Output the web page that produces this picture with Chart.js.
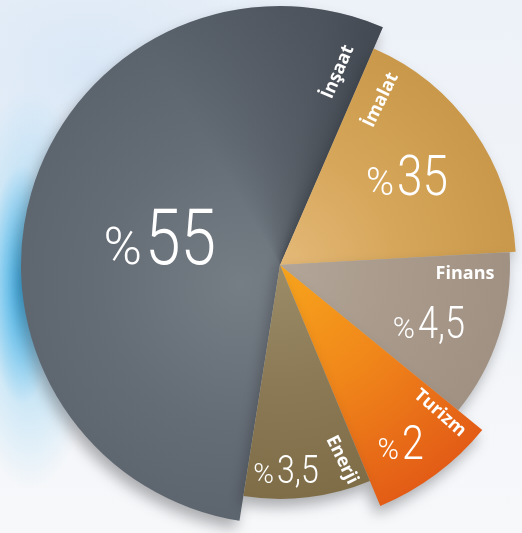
<!DOCTYPE html>
<html>
<head>
<meta charset="utf-8">
<script src="https://cdn.jsdelivr.net/npm/chart.js@4.4.1/dist/chart.umd.min.js"></script>
<style>
  html, body { margin: 0; padding: 0; }
  body {
    width: 522px; height: 533px; overflow: hidden;
    background:
      radial-gradient(ellipse 34px 120px at 22px 285px, rgba(45,170,230,0.85), rgba(45,170,230,0) 100%),
      radial-gradient(ellipse 70px 200px at 30px 290px, rgba(120,200,240,0.7), rgba(120,200,240,0) 100%),
      radial-gradient(ellipse 260px 180px at 90px 70px, rgba(215,230,246,0.9), rgba(215,230,246,0) 100%),
      linear-gradient(180deg, #edf2f8 0%, #f2f5f9 60%, #f7f8fa 100%);
  }
  #wrap { position: relative; width: 522px; height: 533px; }
</style>
</head>
<body>
<div id="wrap"><canvas id="pie"></canvas></div>
<script>
// sectors, clockwise from the lower left edge of İnşaat
const sectors = ['İnşaat', 'İmalat', 'Finans', 'Turizm', 'Enerji'];
const shares  = ['55', '35', '4,5', '2', '3,5'];      // printed figures (%)
const sweep   = [194.4, 63.4, 42.4, 28.2, 31.6];      // opening of each slice, degrees
const reach   = [259, 236, 230, 261, 234];            // slice radius, r scale units
const R_MAX = 242;

// gradient stops per slice: [inner, middle, outer]
const shades = [
  ['#757d85', '#646c75', '#59616b'],
  ['#e4b978', '#d6a65a', '#c9984a'],
  ['#b3a698', '#a99a8b', '#a09182'],
  ['#f8a51c', '#f0861a', '#e35c16'],
  ['#9c8c68', '#8b7a55', '#7e6d47']
];

function sliceFill(context) {
  const chart = context.chart;
  const r = chart.scales.r;
  const i = context.dataIndex;
  const s = shades[i];
  if (!r || !chart.chartArea || r.xCenter === undefined) return s[1];
  const ctx = chart.ctx;
  let g;
  if (i === 0) {
    g = ctx.createRadialGradient(r.xCenter - 40, r.yCenter + 20, 0, r.xCenter - 40, r.yCenter + 20, 280);
  } else {
    g = ctx.createRadialGradient(r.xCenter, r.yCenter, 0, r.xCenter, r.yCenter, reach[i]);
  }
  g.addColorStop(0, s[0]);
  g.addColorStop(0.5, s[1]);
  g.addColorStop(1, s[2]);
  return g;
}

// soft drop shadow under every slice
const shadowPlugin = {
  id: 'sliceShadow',
  beforeDatasetDraw(chart) {
    const ctx = chart.ctx;
    ctx.save();
    ctx.shadowColor = 'rgba(40,40,45,0.36)';
    ctx.shadowBlur = 14;
    ctx.shadowOffsetX = -4;
    ctx.shadowOffsetY = 8;
  },
  afterDatasetDraw(chart) {
    chart.ctx.restore();
  }
};

// darker edge on İnşaat next to İmalat
const edgePlugin = {
  id: 'edgeShade',
  afterDatasetDraw(chart) {
    const arc = chart.getDatasetMeta(0).data[0];
    if (!arc) return;
    const ctx = chart.ctx;
    const { x, y, startAngle, endAngle, outerRadius } = arc.getProps(['x', 'y', 'startAngle', 'endAngle', 'outerRadius'], true);
    ctx.save();
    ctx.beginPath();
    ctx.moveTo(x, y);
    ctx.arc(x, y, outerRadius, startAngle, endAngle);
    ctx.closePath();
    ctx.clip();
    const g = ctx.createConicGradient(startAngle, x, y);
    const span = (endAngle - startAngle) / (2 * Math.PI);
    g.addColorStop(0, 'rgba(30,34,40,0)');
    g.addColorStop(span * 0.72, 'rgba(30,34,40,0)');
    g.addColorStop(span * 0.93, 'rgba(30,34,40,0.22)');
    g.addColorStop(span, 'rgba(30,34,40,0.38)');
    g.addColorStop(span + 0.001, 'rgba(30,34,40,0)');
    ctx.fillStyle = g;
    ctx.fillRect(0, 0, chart.width, chart.height);
    ctx.restore();
  }
};

// names and figures
const nameSpots = [
  { dx: 58,  dy: -193, rot: -66.6 },
  { dx: 101, dy: -165, rot: -64 },
  { dx: 185, dy: 9,    rot: 0 },
  { dx: 160, dy: 148,  rot: 41 },
  { dx: 62,  dy: 195,  rot: 64 }
];
const figureSpots = [
  { dx: -135, dy: -1,  size: 78, pct: 52 },
  { dx: 117,  dy: -70, size: 56, pct: 38 },
  { dx: 138,  dy: 73,  size: 44, pct: 30 },
  { dx: 122,  dy: 194, size: 48, pct: 29 },
  { dx: -3,   dy: 218, size: 39, pct: 28 }
];

const labelPlugin = {
  id: 'sliceLabels',
  afterDatasetsDraw(chart) {
    const ctx = chart.ctx;
    const r = chart.scales.r;
    const cx = r.xCenter, cy = r.yCenter;
    ctx.save();
    ctx.fillStyle = '#ffffff';
    sectors.forEach((name, i) => {
      const p = nameSpots[i];
      ctx.save();
      ctx.translate(cx + p.dx, cy + p.dy);
      ctx.rotate(p.rot * Math.PI / 180);
      ctx.font = '700 18px "Open Sans"';
      ctx.textAlign = 'center';
      ctx.textBaseline = 'middle';
      ctx.fillText(name, 0, 0);
      ctx.restore();
    });
    shares.forEach((val, i) => {
      const p = figureSpots[i];
      ctx.save();
      ctx.translate(cx + p.dx, cy + p.dy);
      ctx.textBaseline = 'alphabetic';
      ctx.font = '300 ' + p.pct + 'px Roboto';
      ctx.textAlign = 'right';
      ctx.fillText('%', -3, 0);
      ctx.scale(0.82, 1);
      ctx.font = '300 ' + p.size + 'px Roboto';
      ctx.textAlign = 'left';
      ctx.fillText(val, 0, 0);
      ctx.restore();
    });
    ctx.restore();
  }
};

new Chart(document.getElementById('pie'), {
  type: 'polarArea',
  data: {
    labels: sectors,
    datasets: [{
      data: reach,
      angle: sweep,
      backgroundColor: sliceFill,
      borderWidth: 0,
      clip: false
    }]
  },
  options: {
    responsive: true,
    maintainAspectRatio: false,
    animation: false,
    events: [],
    layout: { padding: { left: 38, right: 0, top: 0, bottom: 3 } },
    scales: {
      r: { display: false, min: 0, max: R_MAX, startAngle: 189 }
    },
    plugins: {
      legend: { display: false },
      tooltip: { enabled: false }
    }
  },
  plugins: [shadowPlugin, edgePlugin, labelPlugin]
});
</script>
</body>
</html>
